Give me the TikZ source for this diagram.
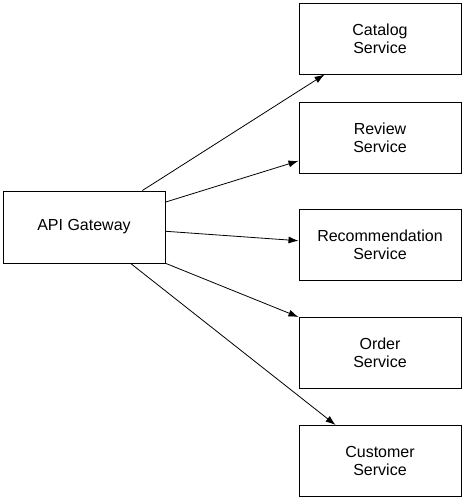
\documentclass[tikz,border=0pt]{standalone}
\usepackage{fontspec}
\setmainfont{Liberation Sans}
\usetikzlibrary{arrows.meta}
\begin{document}
\begin{tikzpicture}
    [x=1pt, y=-1pt,
     box/.style={draw, rectangle, line width=1pt, minimum width=162pt,
       minimum height=71pt, align=center, font=\fontsize{16}{18}\selectfont},
     link/.style={->, >={Latex[length=10pt,width=7pt]}, line width=0.8pt}]
    \useasboundingbox (0,0) rectangle (463,499);

    \node[box, minimum height=72pt] (api) at (84,227) {API Gateway};

    % the services, top to bottom
    \foreach \name/\y/\txt in {catalog/38.5/Catalog, review/137.5/Review,
      recommendation/245/Recommendation, order/353/Order, customer/461/Customer}
    {
      \node[box] (\name) at (380,\y) {\txt\\Service};
    }

    % gateway routes each request to a service
    \foreach \out/\in in {32.7/catalog.-147, 17.1/review.196.8,
      -3.5/recommendation.177.2, -24/order.north west, -38/customer.141}
    {
      \draw[link] (api.\out) -- (\in);
    }
\end{tikzpicture}
\end{document}
